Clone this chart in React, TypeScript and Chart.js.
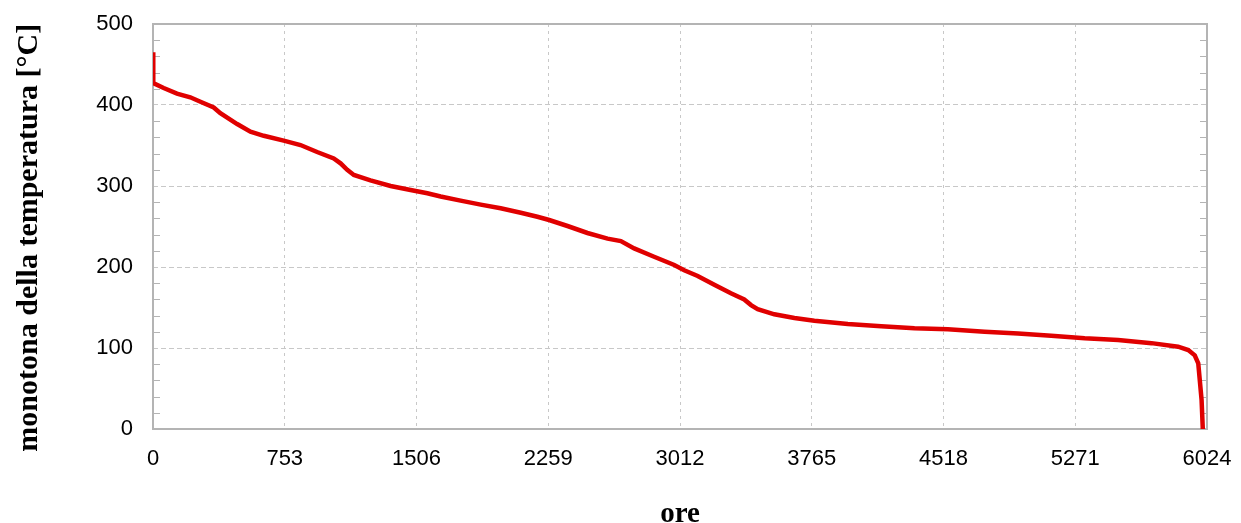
import React, { useEffect, useRef } from "react";
import { Chart, registerables } from "chart.js";

Chart.register(...registerables);

const hours = [0, 0, 3, 61, 137, 213, 271, 347, 385, 481, 557, 633, 747, 843, 938, 1033, 1072, 1110, 1148, 1243, 1358, 1472, 1568, 1644, 1758, 1873, 1987, 2102, 2197, 2264, 2369, 2483, 2598, 2674, 2750, 2864, 2979, 3036, 3113, 3208, 3303, 3379, 3418, 3456, 3551, 3666, 3780, 3971, 4162, 4352, 4543, 4753, 4944, 5134, 5325, 5516, 5707, 5859, 5917, 5954, 5974, 5993, 6000];
const temps = [465, 430, 427, 421, 414, 409.5, 404, 397, 390, 376.5, 367, 362, 356, 350.6, 342, 334, 328, 320, 313.6, 307, 300, 295, 291, 287, 282, 277, 272.5, 267, 262, 258, 250.6, 242, 235, 232, 223, 212.7, 202.5, 196, 189, 178, 167.5, 160, 153, 148, 141.6, 137, 133.7, 129.6, 127, 124.3, 123, 120, 118, 115, 112, 110, 106, 101.6, 97.5, 91, 81, 36, 0];

const xTicks = [0, 753, 1506, 2259, 3012, 3765, 4518, 5271, 6024];
const yTicks = [0, 100, 200, 300, 400, 500];
const yMinorStep = 20;

const xTitle = "ore";
const yTitle = "monotona della temperatura [°C]   ";

const framePlugin = {
  id: "frame",
  beforeDatasetsDraw(chart: any) {
    const { ctx, chartArea } = chart;
    const ys = chart.scales.y;
    ctx.save();
    ctx.strokeStyle = "#b4b4b4";
    ctx.lineWidth = 1;
    for (let v = 0; v <= 500; v += yMinorStep) {
      if (v % 100 === 0) continue;
      const py = Math.round(ys.getPixelForValue(v)) + 0.5;
      ctx.beginPath();
      ctx.moveTo(chartArea.left, py);
      ctx.lineTo(chartArea.left + 7, py);
      ctx.moveTo(chartArea.right, py);
      ctx.lineTo(chartArea.right - 7, py);
      ctx.stroke();
    }
    ctx.lineWidth = 2;
    ctx.strokeStyle = "#b4b4b4";
    ctx.strokeRect(chartArea.left, chartArea.top, chartArea.right - chartArea.left, chartArea.bottom - chartArea.top);
    ctx.restore();
  },
};

export default function App() {
  const ref = useRef<HTMLCanvasElement>(null);
  useEffect(() => {
    const chart = new Chart(ref.current!, {
      type: "line",
      data: {
        datasets: [
          {
            data: hours.map((h, i) => ({ x: h, y: temps[i] })),
            borderColor: "#e00000",
            borderWidth: 4.5,
            pointRadius: 0,
            tension: 0,
            fill: false,
          },
        ],
      },
      options: {
        animation: false,
        responsive: false,
        maintainAspectRatio: false,
        layout: { padding: { left: 0, right: 34, top: 24, bottom: 0 } },
        plugins: { legend: { display: false }, tooltip: { enabled: false } },
        scales: {
          x: {
            type: "linear",
            min: 0,
            max: 6024,
            afterBuildTicks: (s: any) => {
              s.ticks = xTicks.map((v) => ({ value: v }));
            },
            afterFit: (s: any) => {
              s.height = 94;
              s.paddingLeft = 0;
              s.paddingRight = 0;
            },
            ticks: {
              font: { family: "'Liberation Sans', Arial, sans-serif", size: 22 },
              color: "#000",
              padding: 17,
              maxRotation: 0,
              autoSkip: false,
              callback: (v: any) => String(v),
            },
            grid: { color: "#c8c8c8", lineWidth: 1, drawTicks: false },
            border: { display: false, dash: [3, 4] },
            title: {
              display: true,
              text: xTitle,
              color: "#000",
              font: { family: "'Liberation Serif', 'Times New Roman', serif", size: 29, weight: "bold", lineHeight: 0.6 },
              padding: { top: 0, bottom: 0 },
            },
          },
          y: {
            type: "linear",
            min: 0,
            max: 500,
            afterBuildTicks: (s: any) => {
              s.ticks = yTicks.map((v) => ({ value: v }));
            },
            afterFit: (s: any) => {
              s.width = 153;
              s.paddingTop = 0;
              s.paddingBottom = 0;
            },
            ticks: {
              font: { family: "'Liberation Sans', Arial, sans-serif", size: 22 },
              color: "#000",
              padding: 20,
              callback: (v: any) => String(v),
            },
            grid: { color: "#c8c8c8", lineWidth: 1, drawTicks: false },
            border: { display: false, dash: [5, 3] },
            title: {
              display: true,
              text: yTitle,
              color: "#000",
              font: { family: "'Liberation Serif', 'Times New Roman', serif", size: 30, weight: "bold", lineHeight: 1.2 },
              padding: { top: 11, bottom: 0 },
            },
          },
        },
      },
      plugins: [framePlugin],
    } as any);
    return () => chart.destroy();
  }, []);
  return (
    <div style={{ position: "absolute", left: 0, top: 0, width: 1241, height: 523, background: "#fff" }}>
      <canvas ref={ref} width={1241} height={523} style={{ width: 1241, height: 523 }} />
    </div>
  );
}
